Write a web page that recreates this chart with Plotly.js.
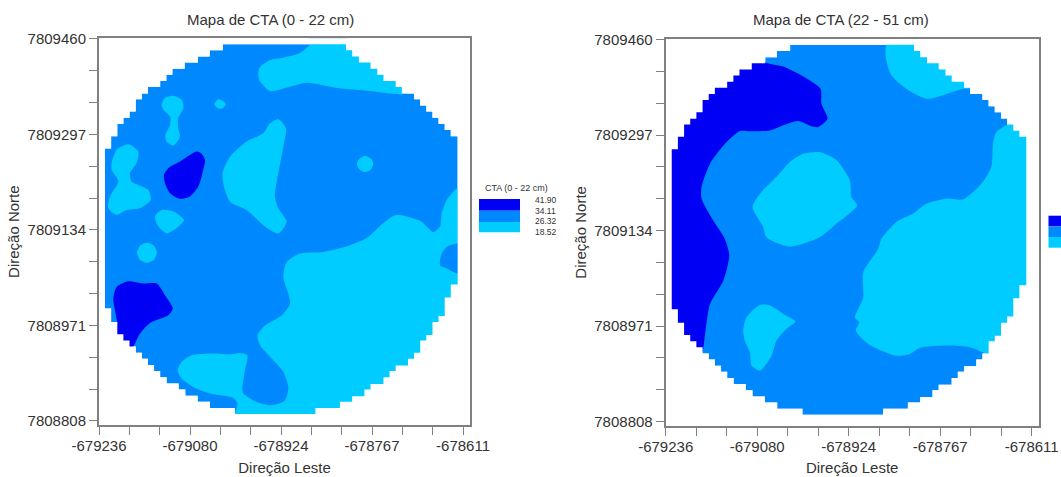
<!DOCTYPE html>
<html><head><meta charset="utf-8">
<script src="https://cdn.plot.ly/plotly-3.0.1.min.js"></script>
<style>html,body{margin:0;padding:0;background:#fff;overflow:hidden}#c{width:1061px;height:477px}</style>
</head><body><div id="c"></div>
<script>
// Map origin; every region below is [metres east, metres north] from this origin
const E0 = -679236, N0 = 7808808;
const xTickLabels = ['-679236','-679080','-678924','-678767','-678611'];
const yTickLabels = ['7808808','7808971','7809134','7809297','7809460'];
const legendLabels = ['41.90','34.11','26.32','18.52'];
const DARK='#0000F5', MID='#0088FF', LIGHT='#00CCFF';

const outline = [[212.5,643],[424,643],[424,632.5],[434.7,632.5],[434.7,622],[446.2,622],[446.2,611.6],[466.2,611.6],[466.2,601],[477.8,601],[477.8,590.6],[488.4,590.6],[488.4,580],[509.4,580],[509.4,569.7],[520,569.7],[520,559],[541,559],[541,548.8],[551.5,548.8],[551.5,538.3],[562,538.3],[562,528],[572.6,528],[572.6,517.4],[583,517.4],[583,507],[593.6,507],[593.6,496.4],[604,496.4],[604,486],[615.8,486],
[615.8,232.6],[604,232.6],[604,210.6],[593.6,210.6],[593.6,179.2],[583,179.2],[583,168.7],[572.6,168.7],[572.6,146.7],[562,146.7],[562,137.3],[551.5,137.3],[551.5,116.4],[541,116.4],[541,105.9],[530.5,105.9],[530.5,94.4],[509.4,94.4],[509.4,85],[498.9,85],[498.9,74.5],[488.4,74.5],[488.4,63],[466.2,63],[466.2,53.5],[455.7,53.5],[455.7,42],[434.7,42],[434.7,32.6],[413.6,32.6],[413.6,22],[371.5,22],[371.5,11.6],
[233.5,11.6],[233.5,22],[190.4,22],[190.4,32.6],[169.3,32.6],[169.3,43],[148.2,43],[148.2,53.5],[136.7,53.5],[136.7,64],[116,64],[116,74.5],[105,74.5],[105,85],[94.5,85],[94.5,95.4],[84,95.4],[84,105.9],[73.5,105.9],[73.5,116.4],[63,116.4],[63,126.8],[52.4,126.8],[52.4,137.3],[41.9,137.3],[41.9,147.8],[31.4,147.8],[31.4,168.7],[20.8,168.7],[20.8,191.7],[10.3,191.7],
[10.3,465],[20.8,465],[20.8,486],[31.4,486],[31.4,507],[41.9,507],[41.9,517],[52.4,517],[52.4,528],[63,528],[63,548.8],[73.5,548.8],[73.5,559],[84,559],[84,569.7],[105,569.7],[105,580],[115.6,580],[115.6,590.6],[126,590.6],[126,601],[147,601],[147,611.6],[170,611.6],[170,622],[190,622],[190,632.5],[212.5,632.5],[212.5,643]];

// Panel 1: CTA 0-22 cm
const a_top = [[362,654],[362,643],[345,628],[316,620],[294,616],[275,602],[275,582],[294,563],[316,567],[357,577],[409,568],[465,563],[522,558],[560,573],[517,616],[422,654]];
const a_nw = [[107.6,539.4],[113,551],[127.6,555],[142,548],[145,534],[136,517],[136,500],[139,485],[127.6,470],[116,477],[114,488],[122,505],[122,519.5],[110.4,531],[107.6,539.4]];
const a_tiny = [[198,541],[205,549],[214.6,545],[218,539.4],[210.6,532.6],[202,535],[198,541]];
const a_centre = [[212,423],[225,451],[253.5,477],[282,491],[293.6,508],[308,515],[321,499.6],[316.5,468],[308,423],[302,383],[308,363],[322,340],[308,320],[285,332],[253.5,360],[225,374],[214.6,400],[212,423]];
const a_west = [[21.7,440],[30.3,462.6],[50.3,472],[67.5,459.8],[64.6,440],[53.2,422.8],[56,408.5],[84.7,394],[88.7,377],[70.4,363],[47.5,360],[30.3,351.7],[16,363],[18.9,383],[33.2,408.5],[21.7,428.5],[21.7,440]];
const a_small = [[96,348.8],[107.6,360],[127.6,357.4],[146,343],[133,329],[116,320.4],[102,331.7],[96,348.8]];
const a_dotE = [[456.7,452],[468,446.7],[471,438.7],[466.5,428.5],[456.7,424.5],[447,429.6],[442.5,438.7],[447,447],[456.7,452]];
const a_dotW = [[82.4,304],[94.4,299],[99.6,287],[94.4,275],[82.4,269.6],[70.4,275],[65.2,287],[70.4,299],[82.4,304]];
const a_south = [[625.6,400],[615,397],[597,377],[588.4,354.5],[585.5,331.7],[574,322],[562.6,331.7],[554,340],[511,351.7],[488,337.4],[459.6,312],[431,300],[385,288.4],[345,285.6],[322.3,271],[316.5,245.7],[325,217],[328,200],[313.7,180],[285,163],[272,146],[276.5,129],[296.5,106.4],[316.5,83.6],[325,58],[319.4,35],[293.6,26.7],[265,35],[247.8,46.6],[246,55],[250.6,86.4],[254.6,112],[242,116],[225,113.7],[196,115],[159,112],[142,100.7],[135,86.4],[142,72],[162,58],[190.5,46.6],[230.6,39],[237.5,29.5],[234,5],[400,-5],[630,-5],[632,400]];
const a_eastPatch = [[588.4,285.6],[597,297],[615,302.6],[625.6,302.6],[625.6,251.4],[615,251.4],[597,260],[585.5,265.6],[588.4,285.6]];
const a_darkN = [[111.6,420],[119,431.3],[139,442.7],[167.7,459.8],[176,456],[182,445.5],[179,428.5],[170.5,400],[156,383],[139,379],[122,388.6],[113.3,405.7],[111.6,420]];
const a_darkS = [[24.6,208.8],[30.3,228.7],[50.3,238.3],[76,234.4],[99,234.4],[113.3,214.4],[126.5,191.7],[119,180.3],[87.5,167.2],[70.4,149],[56,123.4],[44.6,123.4],[27.4,143.3],[31.4,166],[27.4,189],[24.6,208.8]];

// Panel 2: CTA 22-51 cm
const b_dark = [[169.4,613.8],[200.7,606],[234.8,589],[264.4,568],[266,542.6],[276.3,517],[260.4,502.8],[249,504],[226.3,513],[200.7,505.7],[178,497],[143.8,495.4],[126.7,496],[104,477],[75.6,440],[61.3,400.4],[61.3,380.5],[81,343.5],[101,311.8],[108.5,283.3],[98.3,240.6],[75.6,200.8],[68.7,161],[64,124],[61.3,115.5],[18.7,144],[4.5,189.5],[4.5,463],[30,531],[75.6,571],[121,611],[169.4,625],[169.4,613.8]];
const b_centre = [[148.3,366],[161,389],[189,417.5],[212,443],[234.8,457],[263,460],[291.7,446],[314.4,412],[317.3,383],[327,369],[291.7,338],[263,314.5],[212,298.6],[172,314.5],[166.5,332],[148.3,366]];
const b_south = [[132.4,155.3],[138,178],[160.9,199],[178,198],[200.7,183.8],[221.7,170.7],[206,158],[189,138],[180.8,112.6],[160.9,87],[146.6,95.6],[143.8,118.3],[135,138],[132.4,155.3]];
const b_east = [[590.2,511],[564.6,494],[559,474],[556,434.5],[539,406],[507.8,379.4],[479.3,380.5],[445.2,372],[422.5,355],[394,340.7],[368.4,312],[362.7,294.7],[337.2,254.9],[337.2,212],[323,178],[330.3,169.5],[324.6,155.3],[345.7,132.6],[394,112.6],[416.8,115.5],[433.8,125.7],[479.3,129.7],[519,127],[550.4,115.5],[570,115],[598.8,172],[621.5,257.7],[621.5,485],[604.5,519],[590.2,511]];
const b_top = [[378,645],[375.8,622],[385.5,591],[411,568],[445.2,551],[473.6,557],[507.8,568],[525,570],[490.7,617],[445.2,650.7],[378,645]];

const E = p => p.map(q => E0 + q[0]);
const N = p => p.map(q => N0 + q[1]);
function area(p, color, ax, ay, linear){
  return {type:'scatter', mode:'lines', x:E(p), y:N(p), xaxis:ax, yaxis:ay, fill:'toself', fillcolor:color,
    line:{width:0, color:color, shape: linear?'linear':'spline', smoothing:0.7, simplify:false},
    hoverinfo:'skip', showlegend:false};
}
const frame = [[212.5,720],[-60,720],[-60,-60],[720,-60],[720,720],[212.5,720]];
const mask = frame.concat(outline);

const traces = [
  area(outline, MID, 'x','y', true),
  area(a_south, LIGHT,'x','y'), area(a_top, LIGHT,'x','y'), area(a_nw, LIGHT,'x','y'), area(a_tiny, LIGHT,'x','y'),
  area(a_centre, LIGHT,'x','y'), area(a_west, LIGHT,'x','y'), area(a_small, LIGHT,'x','y'), area(a_dotE, LIGHT,'x','y'),
  area(a_dotW, LIGHT,'x','y'), area(a_eastPatch, MID,'x','y'), area(a_darkN, DARK,'x','y'), area(a_darkS, DARK,'x','y'),
  area(mask, '#FFFFFF','x','y', true),
  area(outline, MID, 'x2','y2', true),
  area(b_east, LIGHT,'x2','y2'), area(b_top, LIGHT,'x2','y2'), area(b_centre, LIGHT,'x2','y2'), area(b_south, LIGHT,'x2','y2'),
  area(b_dark, DARK,'x2','y2'),
  area(mask, '#FFFFFF','x2','y2', true)
];

const W=1061, H=477, FONT='"Liberation Sans", Arial, sans-serif', INK='#333333', AXIS='#808080';
const px = v => v/W, py = v => 1 - v/H;
const step = 52.0833, stepN = 54.3333;
const xVals = Array.from({length:13},(_,i)=>E0+i*step);
const yVals = Array.from({length:13},(_,i)=>N0+i*stepN);
const xText = xVals.map((_,i)=> i%3===0 ? xTickLabels[i/3] : '');
const yText = yVals.map((_,i)=> i%3===0 ? yTickLabels[i/3] : '');

function xAxis(d, anchor){
  return {domain:[px(d[0]),px(d[1])], anchor:anchor, range:[E0,E0+637], tickmode:'array', tickvals:xVals, ticktext:xText,
    ticks:'outside', ticklen:8, tickwidth:1, tickcolor:AXIS, showline:true, mirror:true, linecolor:AXIS, linewidth:2,
    showgrid:false, zeroline:false, tickangle:0, tickfont:{family:FONT,size:15,color:INK}, ticklabelstandoff:-2,
    title:{text:'Direção Leste', font:{family:FONT,size:15,color:INK}, standoff:9}};
}
function yAxis(d, anchor){
  return {domain:[py(d[1]),py(d[0])], anchor:anchor, range:[N0-7,N0+653], tickmode:'array', tickvals:yVals, ticktext:yText,
    ticks:'outside', ticklen:8, tickwidth:1, tickcolor:AXIS, showline:true, mirror:true, linecolor:AXIS, linewidth:2,
    showgrid:false, zeroline:false, tickfont:{family:FONT,size:15,color:INK},
    title:{text:'Direção Norte', font:{family:FONT,size:15,color:INK}, standoff:4}};
}
function label(text,x,y,size,anchor){
  return {text:text, x:px(x), y:py(y), xref:'paper', yref:'paper', showarrow:false, xanchor:anchor||'center', yanchor:'middle',
    font:{family:FONT,size:size,color:INK}};
}
function swatch(x0,x1,y0,y1,c){
  return {type:'rect', xref:'paper', yref:'paper', x0:px(x0), x1:px(x1), y0:py(y0), y1:py(y1), fillcolor:c, line:{width:0}};
}
const layout = {
  width:W, height:H, margin:{l:0,r:0,t:0,b:0}, paper_bgcolor:'#fff', plot_bgcolor:'#fff', showlegend:false,
  xaxis:xAxis([99,470],'y'), yaxis:yAxis([38.3,425],'x'),
  xaxis2:xAxis([665.7,1038.7],'y2'), yaxis2:yAxis([39,425.7],'x2'),
  annotations:[
    label('Mapa de CTA (0 - 22 cm)',270,19,15),
    label('Mapa de CTA (22 - 51 cm)',841,19,15),
    label('CTA (0 - 22 cm)',516,188,9),
    label(legendLabels[0],533,200,8.5,'left'), label(legendLabels[1],533,211,8.5,'left'),
    label(legendLabels[2],533,221.5,8.5,'left'), label(legendLabels[3],533,232,8.5,'left')
  ],
  shapes:[
    swatch(479,520,199,210.7,DARK), swatch(479,520,210.7,222,MID), swatch(479,520,222,232.3,LIGHT),
    swatch(1048.5,1061,215.7,226.4,DARK), swatch(1048.5,1061,226.4,237,MID), swatch(1048.5,1061,237,247.7,LIGHT)
  ]
};
Plotly.newPlot('c', traces, layout, {displayModeBar:false, staticPlot:true});
</script></body></html>
